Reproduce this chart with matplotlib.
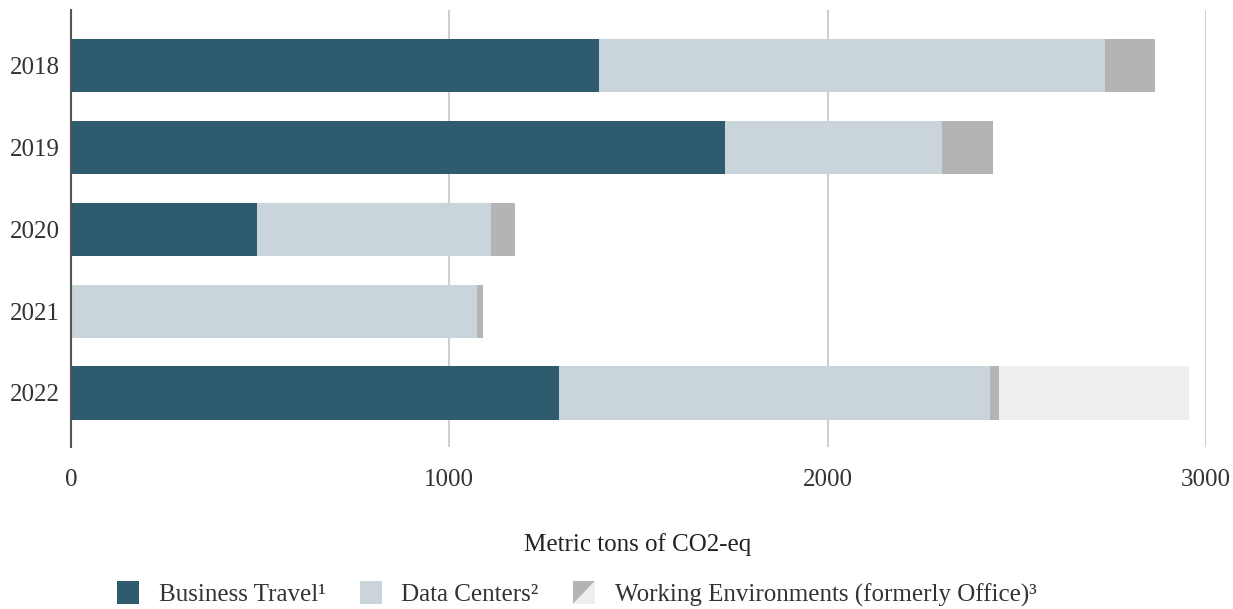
import matplotlib
matplotlib.use("Agg")
import matplotlib.pyplot as plt
from matplotlib.patches import Polygon, Rectangle
from matplotlib.legend_handler import HandlerBase

plt.rcParams['font.family'] = ['Liberation Serif', 'DejaVu Serif']

years = ["2018", "2019", "2020", "2021", "2022"]
business_travel = [1395, 1729, 492, 0, 1289]
data_centers = [1337, 572, 617, 1072, 1141]
working_env = [133, 135, 64, 16, 22]
working_env_extra = [0, 0, 0, 0, 503]
x_ticks = [0, 1000, 2000, 3000]

c_bt = "#2f5b6e"
c_dc = "#c9d5db"
c_we = "#b4b4b4"
c_we2 = "#eeeeee"

fig = plt.figure(figsize=(12.33, 6.09), dpi=100)
ax = fig.add_axes([71/1233, 1-447/609, (1206-71)/1233, (447-10)/609])

ypos = list(range(len(years)))
h = 0.65
left = [0]*len(years)
for vals, col in [(business_travel, c_bt), (data_centers, c_dc), (working_env, c_we), (working_env_extra, c_we2)]:
    ax.barh(ypos, vals, left=left, height=h, color=col, zorder=3)
    left = [l + v for l, v in zip(left, vals)]

ax.set_xlim(0, 3000)
ax.set_ylim(4.66, -0.68)
ax.set_yticks(ypos)
ax.set_yticklabels(years)
ax.set_xticks(x_ticks)
ax.set_xticklabels([str(t) for t in x_ticks])
ax.tick_params(axis='both', length=0, labelsize=18, colors="#333333")
ax.tick_params(axis='x', pad=16)
ax.tick_params(axis='y', pad=8)
ax.grid(axis='x', color="#d0d0d0", linewidth=1.5, zorder=0)
for s in ['top', 'right', 'bottom']:
    ax.spines[s].set_visible(False)
ax.spines['left'].set_color("#555555")
ax.spines['left'].set_linewidth(1.5)
ax.spines['left'].set_zorder(4)

fig.text(638/1233, 1-545/609, "Metric tons of CO2-eq", ha='center', va='center', fontsize=18, color="#222222")

class HalfHandler(HandlerBase):
    def create_artists(self, legend, orig_handle, xdescent, ydescent, width, height, fontsize, trans):
        w = h2 = height
        x0 = -xdescent + (width - w) / 2
        y0 = -ydescent
        p1 = Polygon([[x0, y0], [x0, y0 + h2], [x0 + w, y0 + h2]], closed=True, facecolor=c_we, edgecolor='none', transform=trans)
        p2 = Polygon([[x0, y0], [x0 + w, y0], [x0 + w, y0 + h2]], closed=True, facecolor=c_we2, edgecolor='none', transform=trans)
        return [p1, p2]

class SquareHandler(HandlerBase):
    def create_artists(self, legend, orig_handle, xdescent, ydescent, width, height, fontsize, trans):
        w = height
        x0 = -xdescent + (width - w) / 2
        r = Rectangle((x0, -ydescent), w, height, facecolor=orig_handle.get_facecolor(), edgecolor='none', transform=trans)
        return [r]

class WEHandle:
    pass

bt_h = Rectangle((0, 0), 1, 1, facecolor=c_bt)
dc_h = Rectangle((0, 0), 1, 1, facecolor=c_dc)
we_h = WEHandle()
labels = ["Business Travel\u00b9", "Data Centers\u00b2", "Working Environments (formerly Office)\u00b3"]
leg = fig.legend([bt_h, dc_h, we_h], labels, loc='center', bbox_to_anchor=(576/1233, 1-594/609),
                 ncol=3, frameon=False, fontsize=18, handlelength=1.0, handleheight=1.0,
                 handletextpad=0.72, columnspacing=1.32, borderpad=0, borderaxespad=0,
                 handler_map={Rectangle: SquareHandler(), WEHandle: HalfHandler()})
for t in leg.get_texts():
    t.set_color("#333333")

fig.savefig("out.png", dpi=100)
